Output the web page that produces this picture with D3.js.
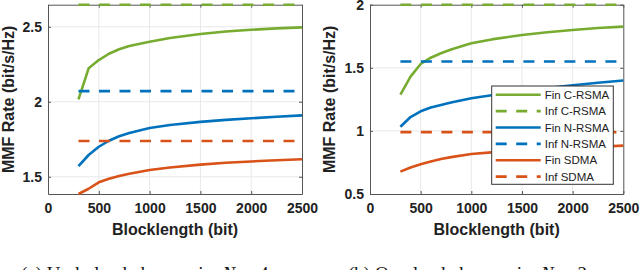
<!DOCTYPE html>
<html>
<head>
<meta charset="utf-8">
<script src="https://cdn.jsdelivr.net/npm/d3@7"></script>
<style>
  html, body { margin: 0; padding: 0; background: #fff; }
  svg { display: block; }
</style>
</head>
<body>
<svg id="chart" width="640" height="270"></svg>
<script>
// ---------- data ----------
const blocklength = [300, 400, 500, 600, 700, 800, 1000, 1200, 1500, 1750, 2000, 2250, 2500];

// (a) Underloaded scenario
const finCRSMA_a = [2.016, 2.223, 2.278, 2.320, 2.350, 2.372, 2.400, 2.425, 2.452, 2.468, 2.480, 2.489, 2.496];
const finNRSMA_a = [1.571, 1.645, 1.700, 1.740, 1.770, 1.792, 1.825, 1.845, 1.866, 1.879, 1.890, 1.900, 1.909];
const finSDMA_a  = [1.385, 1.420, 1.463, 1.487, 1.505, 1.520, 1.545, 1.562, 1.581, 1.593, 1.602, 1.610, 1.617];
const infCRSMA_a = 2.647, infNRSMA_a = 2.071, infSDMA_a = 1.738;

// (b) Overloaded scenario
const finCRSMA_b = [1.287, 1.430, 1.530, 1.580, 1.615, 1.645, 1.694, 1.725, 1.760, 1.782, 1.800, 1.815, 1.826];
const finNRSMA_b = [1.033, 1.110, 1.155, 1.185, 1.205, 1.225, 1.258, 1.283, 1.316, 1.340, 1.362, 1.382, 1.400];
const finSDMA_b  = [0.677, 0.710, 0.735, 0.758, 0.777, 0.792, 0.817, 0.830, 0.845, 0.857, 0.866, 0.875, 0.883];
const infCRSMA_b = 2.0, infNRSMA_b = 1.55, infSDMA_b = 0.99;

const xTicks = [0, 500, 1000, 1500, 2000, 2500];
const yTicks_a = [1.5, 2, 2.5];
const yTicks_b = [0.5, 1, 1.5, 2];
const seriesNames = ["Fin C-RSMA", "Inf C-RSMA", "Fin N-RSMA", "Inf N-RSMA", "Fin SDMA", "Inf SDMA"];
const xLabel = "Blocklength (bit)";
const yLabel = "MMF Rate (bit/s/Hz)";
const captions = [["(a) Underloaded scenario, ", "4"], ["(b) Overloaded scenario, ", "2"]];

// ---------- styles ----------
const colors = { c: "#77AC30", n: "#0072BD", s: "#D95319" };
const DASH = "11,9.5";
const LW = 2.6;
const FONT = "'Liberation Sans', Arial, Helvetica, sans-serif";

const svg = d3.select("#chart");

function panel(cfg) {
  const { left, right, top, bottom, yDomain, yTicks, fin, inf, legend, yLabelX, tickRight } = cfg;
  const x = d3.scaleLinear().domain([0, 2500]).range([left, right]);
  const y = d3.scaleLinear().domain(yDomain).range([bottom, top]);
  const g = svg.append("g");

  // grid
  g.selectAll(".vg").data(xTicks.slice(1, -1)).enter().append("line")
    .attr("x1", d => x(d)).attr("x2", d => x(d)).attr("y1", top).attr("y2", bottom)
    .attr("stroke", "#e8e8e8").attr("stroke-width", 1);
  g.selectAll(".hg").data(yTicks.filter(v => y(v) > top + 1 && y(v) < bottom - 1)).enter().append("line")
    .attr("x1", left).attr("x2", right).attr("y1", d => y(d)).attr("y2", d => y(d))
    .attr("stroke", "#e8e8e8").attr("stroke-width", 1);

  // axes (bottom/left with labels, top/right mirrored)
  const axB = d3.axisBottom(x).tickValues(xTicks).tickSizeInner(-3).tickSizeOuter(0).tickPadding(9).tickFormat(d3.format("d"));
  const axT = d3.axisTop(x).tickValues(xTicks).tickSizeInner(-3).tickSizeOuter(0).tickFormat("");
  const axL = d3.axisLeft(y).tickValues(yTicks).tickSizeInner(-3).tickSizeOuter(0).tickPadding(tickRight).tickFormat(d3.format("~g"));
  const axR = d3.axisRight(y).tickValues(yTicks).tickSizeInner(-3).tickSizeOuter(0).tickFormat("");
  const styleAxis = sel => {
    sel.select(".domain").attr("stroke", "#555").attr("stroke-width", 1);
    sel.selectAll(".tick line").attr("stroke", "#555");
    sel.selectAll(".tick text").attr("fill", "#222").style("font-family", FONT)
      .style("font-size", "14px").style("font-weight", "bold");
  };
  g.append("g").attr("transform", `translate(0,${bottom})`).call(axB).call(styleAxis);
  g.append("g").attr("transform", `translate(0,${top})`).call(axT).call(styleAxis);
  g.append("g").attr("transform", `translate(${left},0)`).call(axL).call(styleAxis);
  g.append("g").attr("transform", `translate(${right},0)`).call(axR).call(styleAxis);

  // lines
  const line = d3.line().x(d => x(d[0])).y(d => y(d[1]));
  const keys = ["c", "n", "s"];
  keys.forEach((k, i) => {
    g.append("path").datum(blocklength.map((b, j) => [b, fin[i][j]]))
      .attr("d", line).attr("fill", "none").attr("stroke", colors[k])
      .attr("stroke-width", LW).attr("stroke-linejoin", "round");
    g.append("path").datum([[blocklength[0], inf[i]], [blocklength[blocklength.length - 1], inf[i]]])
      .attr("d", line).attr("fill", "none").attr("stroke", colors[k])
      .attr("stroke-width", LW).attr("stroke-dasharray", DASH);
  });

  // labels
  g.append("text").attr("x", (left + right) / 2).attr("y", 235)
    .attr("text-anchor", "middle").style("font-family", FONT).style("font-size", "16px")
    .style("font-weight", "bold").attr("fill", "#222").text(xLabel);
  g.append("text").attr("transform", `translate(${yLabelX},${(top + bottom) / 2}) rotate(-90)`)
    .attr("text-anchor", "middle").style("font-family", FONT).style("font-size", "16px")
    .style("font-weight", "bold").attr("fill", "#222").text(yLabel);

  // legend
  if (legend) {
    const lg = g.append("g");
    lg.append("rect").attr("x", legend.x).attr("y", legend.y).attr("width", legend.w).attr("height", legend.h)
      .attr("fill", "#fff").attr("stroke", "#333").attr("stroke-width", 1);
    const step = legend.h / seriesNames.length;
    seriesNames.forEach((name, i) => {
      const k = keys[Math.floor(i / 2)];
      const yy = legend.y + step * (i + 0.5) + 0.5;
      lg.append("line").attr("x1", legend.x + 4).attr("x2", legend.x + 49).attr("y1", yy).attr("y2", yy)
        .attr("stroke", colors[k]).attr("stroke-width", LW)
        .attr("stroke-dasharray", i % 2 ? DASH : null);
      lg.append("text").attr("x", legend.x + 53).attr("y", yy).attr("dy", "0.36em")
        .style("font-family", FONT).style("font-size", "11.5px").attr("fill", "#222").text(name);
    });
  }
}

panel({
  left: 48, right: 302, top: 4.7, bottom: 194,
  yDomain: [1.385, 2.647], yTicks: yTicks_a,
  fin: [finCRSMA_a, finNRSMA_a, finSDMA_a], inf: [infCRSMA_a, infNRSMA_a, infSDMA_a],
  yLabelX: 14, tickRight: 6
});
panel({
  left: 370, right: 623.3, top: 4.7, bottom: 194,
  yDomain: [0.5, 2], yTicks: yTicks_b,
  fin: [finCRSMA_b, finNRSMA_b, finSDMA_b], inf: [infCRSMA_b, infNRSMA_b, infSDMA_b],
  yLabelX: 335, tickRight: 6,
  legend: { x: 491.7, y: 86, w: 121.6, h: 98.3 }
});

// captions (cut off at bottom edge, as in reference)
const capX = [21, 348];
captions.forEach((c, i) => {
  const t = svg.append("text").attr("x", capX[i]).attr("y", 280)
    .style("font-family", "'Liberation Serif', 'DejaVu Serif', serif").style("font-size", "19px").attr("fill", "#111");
  t.append("tspan").text(c[0]);
  t.append("tspan").style("font-style", "italic").text("N");
  t.append("tspan").attr("dy", 3).style("font-size", "13px").style("font-style", "italic").text("t");
  t.append("tspan").attr("dy", -3).text(" = " + c[1]);
});
</script>
</body>
</html>
